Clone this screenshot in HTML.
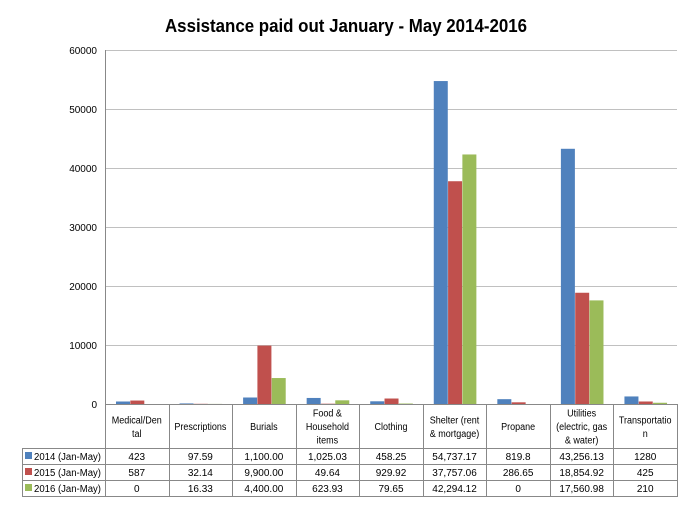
<!DOCTYPE html>
<html><head><style>body{margin:0;background:#fff}svg{display:block}text{font-family:"Liberation Sans",sans-serif}</style></head><body>
<svg width="694" height="506" xmlns="http://www.w3.org/2000/svg">
<text x="346" y="32" text-anchor="middle" font-size="18" font-weight="bold" textLength="362" lengthAdjust="spacingAndGlyphs">Assistance paid out January - May 2014-2016</text>
<g stroke="#c0c0c0" stroke-width="1">
<line x1="105" x2="677" y1="50.5" y2="50.5"/><line x1="105" x2="677" y1="109.5" y2="109.5"/><line x1="105" x2="677" y1="168.5" y2="168.5"/><line x1="105" x2="677" y1="227.5" y2="227.5"/><line x1="105" x2="677" y1="286.5" y2="286.5"/><line x1="105" x2="677" y1="345.5" y2="345.5"/>
</g>
<g font-size="10" text-anchor="end" fill="#000">
<text x="97" y="54">60000</text><text x="97" y="113">50000</text><text x="97" y="172">40000</text><text x="97" y="231">30000</text><text x="97" y="290">20000</text><text x="97" y="349">10000</text><text x="97" y="408">0</text>
</g>
<g id="bars"></g>
<g stroke="#888" stroke-width="1" fill="none">
<line x1="105.5" y1="50" x2="105.5" y2="497"/>
<line x1="22" y1="448.5" x2="677" y2="448.5"/>
<line x1="22" y1="464.5" x2="677" y2="464.5"/>
<line x1="22" y1="480.5" x2="677" y2="480.5"/>
<line x1="22" y1="496.5" x2="677" y2="496.5"/>
<line x1="22.5" y1="448" x2="22.5" y2="497"/>
<line x1="105" y1="404.5" x2="677" y2="404.5"/>
</g>
<g id="tbl" font-size="10" text-anchor="middle"></g>
<script>
var data=[["Medical/Den|tal",["423","587","0"],[423,587,0]],["Prescriptions",["97.59","32.14","16.33"],[97.59,32.14,16.33]],["Burials",["1,100.00","9,900.00","4,400.00"],[1100,9900,4400]],["Food &|Household|items",["1,025.03","49.64","623.93"],[1025.03,49.64,623.93]],["Clothing",["458.25","929.92","79.65"],[458.25,929.92,79.65]],["Shelter (rent|& mortgage)",["54,737.17","37,757.06","42,294.12"],[54737.17,37757.06,42294.12]],["Propane",["819.8","286.65","0"],[819.8,286.65,0]],["Utilities|(electric, gas|& water)",["43,256.13","18,854.92","17,560.98"],[43256.13,18854.92,17560.98]],["Transportatio|n",["1280","425","210"],[1280,425,210]]];
var cols=["#4F81BD","#C0504D","#9BBB59"],ns="http://www.w3.org/2000/svg";
var b=document.getElementById("bars"),t=document.getElementById("tbl"),lines=document.querySelector("g[stroke='#888']");
function el(p,n,a,txt){var e=document.createElementNS(ns,n);for(var k in a)e.setAttribute(k,a[k]);if(txt!=null)e.textContent=txt;p.appendChild(e);return e;}
var w=572/9;
data.forEach(function(d,i){var x0=105+i*w;
el(lines,"line",{x1:Math.round(x0+w)+.5,x2:Math.round(x0+w)+.5,y1:404,y2:497});
d[2].forEach(function(v,j){var h=v*354/60000;el(b,"rect",{x:x0+11+j*14.3,y:404-h,width:14,height:h,fill:cols[j]});
el(t,"text",{x:x0+w/2,y:460+j*16},d[1][j]);});
var ls=d[0].split("|"),cy=430-(ls.length-1)*6.75;
ls.forEach(function(l,k){var a={x:x0+w/2,y:cy+k*13.5};var e=el(t,"text",a,l);
var len=e.getComputedTextLength();var mx=Math.min(len*0.9,w-4);e.setAttribute("textLength",mx);e.setAttribute("lengthAdjust","spacingAndGlyphs");});
});
["2014 (Jan-May)","2015 (Jan-May)","2016 (Jan-May)"].forEach(function(s,j){el(t,"rect",{x:25,y:452+j*16,width:7,height:7,fill:cols[j]});el(t,"text",{x:34,y:460+j*16,"text-anchor":"start",textLength:67,lengthAdjust:"spacingAndGlyphs"},s);});
</script>
</svg>
</body></html>
